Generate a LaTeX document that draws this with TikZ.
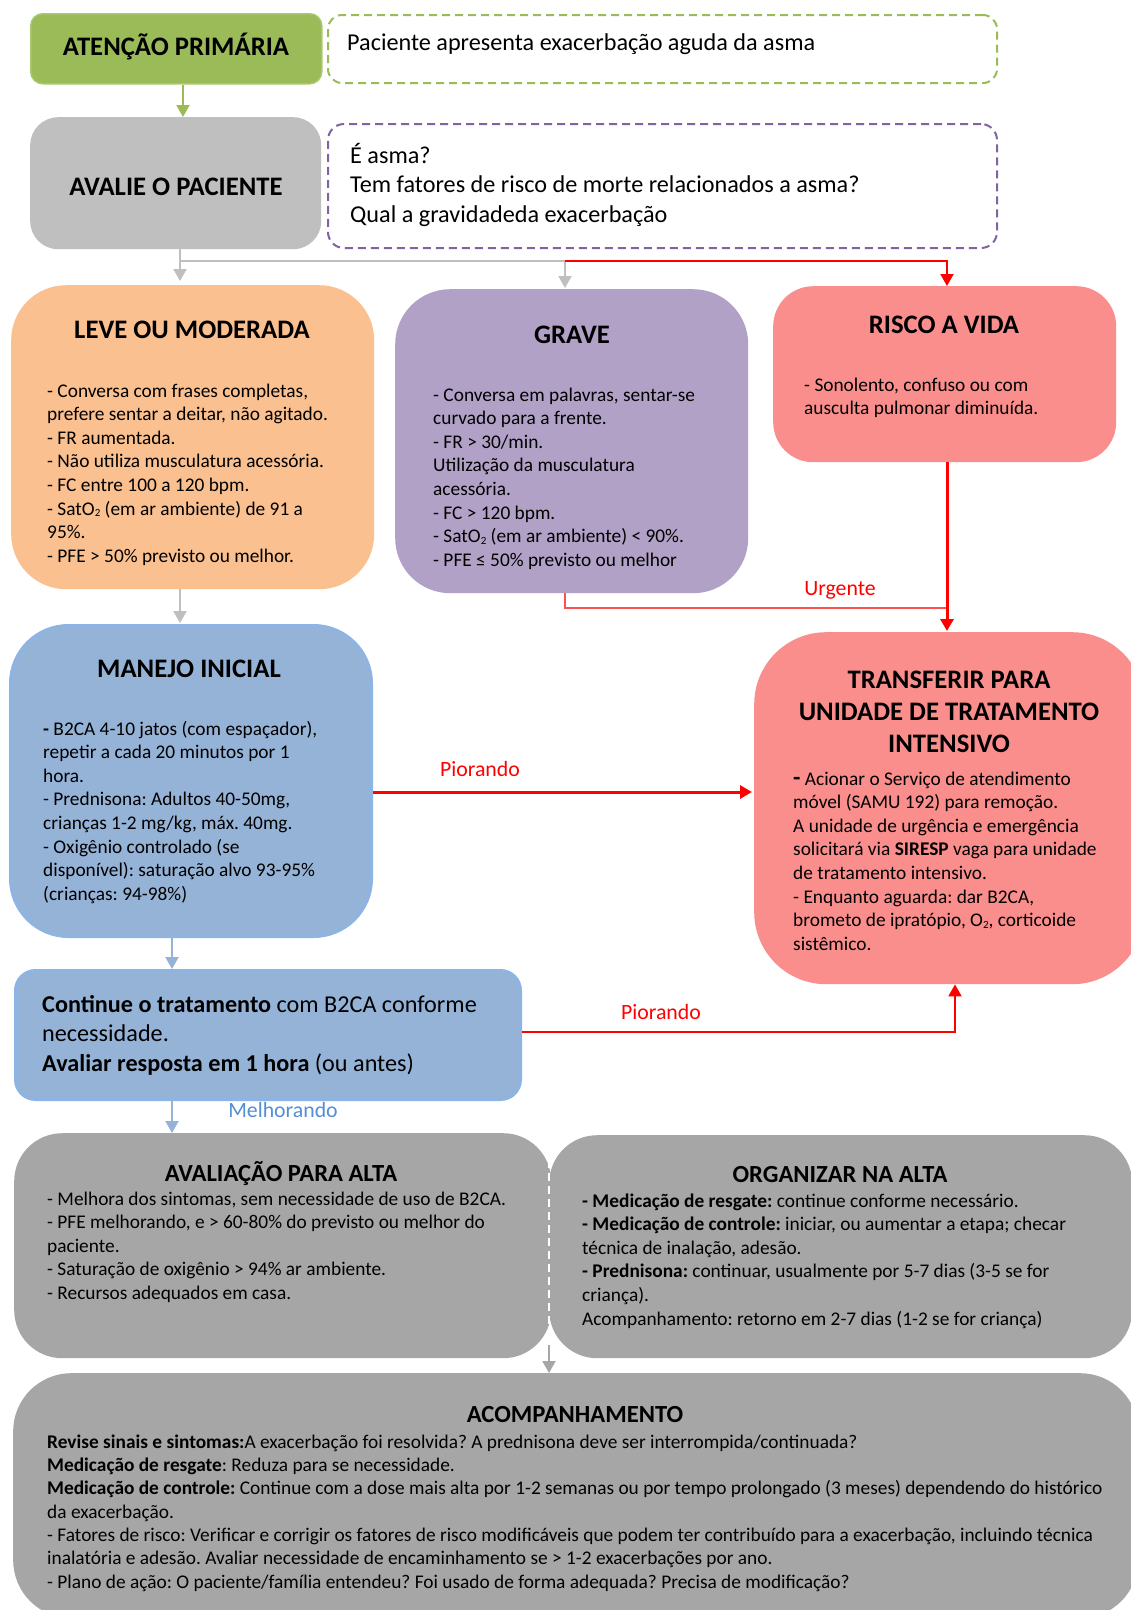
\documentclass[tikz,border=0pt]{standalone}
\usepackage{fontspec}
\setmainfont{Carlito}
\usetikzlibrary{arrows.meta}
\frenchspacing

\definecolor{prigreen}{HTML}{9BBB59}
\definecolor{prigreenline}{HTML}{A9C86E}
\definecolor{evalgray}{HTML}{BFBFBF}
\definecolor{mildorange}{HTML}{FAC090}
\definecolor{severepurple}{HTML}{B2A1C7}
\definecolor{lifered}{HTML}{FA8E8C}
\definecolor{mgmtblue}{HTML}{95B3D7}
\definecolor{mgmtline}{HTML}{8DB4E2}
\definecolor{dischgray}{HTML}{A6A6A6}
\definecolor{dashpurple}{HTML}{8064A2}
\definecolor{linkgray}{HTML}{BFBFBF}
\definecolor{urgentred}{HTML}{FF5050}
\definecolor{bettertext}{HTML}{558ED5}

\newcommand{\fBody}{\fontsize{19.35}{23.6}\selectfont}
\newcommand{\fSmall}{\fontsize{19.35}{23.3}\selectfont}
\newcommand{\fHead}{\fontsize{24.2}{29.5}\selectfont}
\newcommand{\fTitle}{\fontsize{26.7}{32}\selectfont\bfseries}
\newcommand{\fSub}{\fontsize{24.6}{29}\selectfont\bfseries}
\newcommand{\fLabel}{\fontsize{21.8}{26}\selectfont}
\newcommand{\lead}{\rule{0pt}{0.8em}}
% small chemical subscript two, as in O2
\newcommand{\subtwo}{\raisebox{-1.5pt}{\fontsize{11}{11}\selectfont 2}}

\tikzset{
  box/.style={rectangle, inner sep=0pt, anchor=north west},
  notebox/.style={box, dashed, line width=2pt, dash pattern=on 8pt off 5pt},
  txt/.style={inner sep=0pt, align=left, anchor=north west},
  bodytxt/.style={txt, font=\fBody},
  headtxt/.style={txt, font=\fHead},
  ttl/.style={inner sep=0pt, anchor=base},
  headarrow/.style={-{Triangle[length=12pt,width=13pt]}},
  graylink/.style={draw=linkgray, line width=2pt},
  greenlink/.style={draw=prigreen, line width=2pt},
  bluelink/.style={draw=mgmtblue, line width=2pt},
  redlink/.style={draw=red, line width=2pt},
  redthick/.style={draw=red, line width=3pt},
}

\begin{document}
\begin{tikzpicture}[x=1pt,y=-1pt]
\useasboundingbox (0,0) rectangle (1131,1610);
\fill[white] (0,0) rectangle (1131,1610);
\clip (0,0) rectangle (1131,1610);

% ---------- boxes ----------
\node[box, fill=prigreen, draw=prigreenline, line width=1.5pt, rounded corners=12pt,
      minimum width=291pt, minimum height=70pt] (primary) at (30,13) {};
\node[notebox, draw=prigreen, rounded corners=14pt,
      minimum width=669pt, minimum height=68pt] (primarynote) at (327,14) {};
\node[box, fill=evalgray, rounded corners=28pt,
      minimum width=291pt, minimum height=132pt] (assess) at (30,117) {};
\node[notebox, draw=dashpurple, rounded corners=16pt,
      minimum width=669pt, minimum height=124pt] (assessnote) at (327,123) {};

\node[box, fill=mildorange, rounded corners=55pt,
      minimum width=363pt, minimum height=304pt] (mild) at (11,285) {};
\node[box, fill=severepurple, rounded corners=55pt,
      minimum width=353pt, minimum height=304pt] (severe) at (395,289) {};
\node[box, fill=lifered, rounded corners=40pt,
      minimum width=343pt, minimum height=176pt] (lifethreat) at (773,286) {};

\node[box, fill=mgmtblue, draw=mgmtline, line width=3pt, rounded corners=58pt,
      minimum width=361pt, minimum height=311pt] (initial) at (9,624) {};
\node[box, fill=lifered, rounded corners=72pt,
      minimum width=390pt, minimum height=352pt] (transfer) at (754,632) {};
\node[box, fill=mgmtblue, draw=mgmtline, line width=3pt, rounded corners=20pt,
      minimum width=505pt, minimum height=129pt] (continue) at (14,969) {};

\node[box, fill=dischgray, rounded corners=48pt,
      minimum width=537pt, minimum height=225pt] (discheval) at (14,1133) {};
\node[box, fill=dischgray, rounded corners=48pt,
      minimum width=583pt, minimum height=223pt] (dischplan) at (549,1135) {};
\node[box, fill=dischgray, rounded corners=58pt,
      minimum width=1125pt, minimum height=245pt] (followup) at (13,1373) {};

% ---------- connector columns and rows ----------
\coordinate (colG) at (183,0);
\coordinate (colA) at (180,0);
\coordinate (colB) at (565,0);
\coordinate (colR) at (947,0);
\coordinate (colC) at (172,0);
\coordinate (colT) at (955,0);
\coordinate (colS) at (549,0);
\coordinate (rowJ) at (0,261);
\coordinate (rowU) at (0,608);
\coordinate (rowP) at (0,792);
\coordinate (rowQ) at (0,1032);
\coordinate (rowS1) at (0,1160);
\coordinate (rowS2) at (0,1345);

% ---------- connectors ----------
\draw[greenlink, headarrow] (primary.south -| colG) -- (assess.north -| colG);

\draw[graylink] (assess.south -| colA) -- (colA |- rowJ) -- (colB |- rowJ);
\draw[graylink, headarrow, shorten >=4pt] (colA |- rowJ) -- (mild.north -| colA);
\draw[graylink, headarrow, shorten >=1pt] (colB |- rowJ) -- (severe.north -| colB);
\draw[redlink, headarrow] (colB |- rowJ) -- (colR |- rowJ) -- (lifethreat.north -| colR);

\draw[graylink, headarrow, shorten >=1pt] (mild.south -| colA) -- (initial.north -| colA);
\draw[draw=urgentred, line width=2pt] (severe.south -| colB) -- (colB |- rowU) -- (colR |- rowU);
\draw[redthick, headarrow, shorten >=1pt] (lifethreat.south -| colR) -- (transfer.north -| colR);

\draw[redthick, headarrow, shorten >=2pt] (initial.east |- rowP) -- (transfer.west |- rowP);
\draw[bluelink, headarrow] (initial.south -| colC) -- (continue.north -| colC);
\draw[redlink, headarrow] (continue.east |- rowQ) -- (colT |- rowQ) -- (transfer.south -| colT);
\draw[bluelink, headarrow] (continue.south -| colC) -- (discheval.north -| colC);

\draw[draw=white, line width=2pt, dash pattern=on 8pt off 5pt] (colS |- rowS1) -- (colS |- rowS2);
\draw[draw=dischgray, line width=2pt, headarrow] (colS |- rowS2) -- (followup.north -| colS);

% ---------- connector labels ----------
\node[ttl, text=red, font=\fLabel] (lblurgent) at (840,595) {Urgente};
\node[ttl, text=red, font=\fLabel] (lblworse1) at (480,776) {Piorando};
\node[ttl, text=red, font=\fLabel] (lblworse2) at (661,1019) {Piorando};
\node[ttl, text=bettertext, font=\fLabel] (lblbetter) at (283,1117) {Melhorando};

% ---------- texts ----------
\node[ttl, font=\fTitle] (primarytitle) at (176,55) {ATENÇÃO PRIMÁRIA};
\node[headtxt] (primarytext) at (347,30.6) {\lead Paciente apresenta exacerbação aguda da asma};

\node[ttl, font=\fTitle] (assesstitle) at (176,195) {AVALIE O PACIENTE};
\node[headtxt] (assesstext) at (350,142.6) {\lead É asma?\\
Tem fatores de risco de morte relacionados a asma?\\
Qual a gravidadeda exacerbação};

\node[ttl, font=\fTitle] (mildtitle) at (192,338) {LEVE OU MODERADA};
\node[bodytxt] (mildtext) at (47,381.5) {\lead - Conversa com frases completas,\\
prefere sentar a deitar, não agitado.\\
- FR aumentada.\\
- Não utiliza musculatura acessória.\\
- FC entre 100 a 120 bpm.\\
- SatO\subtwo{} (em ar ambiente) de 91 a\\
95\%.\\
- PFE > 50\% previsto ou melhor.};

\node[ttl, font=\fTitle] (severetitle) at (572,343) {GRAVE};
\node[bodytxt] (severetext) at (433,385.5) {\lead - Conversa em palavras, sentar-se\\
curvado para a frente.\\
- FR > 30/min.\\
Utilização da musculatura\\
acessória.\\
- FC > 120 bpm.\\
- SatO\subtwo{} (em ar ambiente) < 90\%.\\
- PFE ≤ 50\% previsto ou melhor};

\node[ttl, font=\fTitle] (lifetitle) at (944,333) {RISCO A VIDA};
\node[bodytxt] (lifetext) at (804,375.5) {\lead - Sonolento, confuso ou com\\
ausculta pulmonar diminuída.};

\node[ttl, font=\fTitle] (initialtitle) at (189,677) {MANEJO INICIAL};
\node[bodytxt] (initialtext) at (43,719.5) {\lead \textbf{-} B2CA 4-10 jatos (com espaçador),\\
repetir a cada 20 minutos por 1\\
hora.\\
- Prednisona: Adultos 40-50mg,\\
crianças 1-2 mg/kg, máx. 40mg.\\
- Oxigênio controlado (se\\
disponível): saturação alvo 93-95\%\\
(crianças: 94-98\%)};

\node[inner sep=0pt, align=center, anchor=north, font=\fTitle] (transfertitle) at (949,666.6)
  {\lead TRANSFERIR PARA\\ UNIDADE DE TRATAMENTO\\ INTENSIVO};
\node[bodytxt] (transfertext) at (793,769.5) {\lead {\fontsize{24}{23.6}\selectfont\textbf{-}} Acionar o Serviço de atendimento\\
móvel (SAMU 192) para remoção.\\
A unidade de urgência e emergência\\
solicitará via \textbf{SIRESP} vaga para unidade\\
de tratamento intensivo.\\
- Enquanto aguarda: dar B2CA,\\
brometo de ipratópio, O\subtwo, corticoide\\
sistêmico.};

\node[headtxt] (continuetext) at (42,992.6) {\lead \textbf{Continue o tratamento} com B2CA conforme\\
necessidade.\\
\textbf{Avaliar resposta em 1 hora} (ou antes)};

\node[ttl, font=\fSub] (dischevaltitle) at (281,1181) {AVALIAÇÃO PARA ALTA};
\node[bodytxt] (dischevaltext) at (47,1189.5) {\lead - Melhora dos sintomas, sem necessidade de uso de B2CA.\\
- PFE melhorando, e > 60-80\% do previsto ou melhor do\\
paciente.\\
- Saturação de oxigênio > 94\% ar ambiente.\\
- Recursos adequados em casa.};

\node[ttl, font=\fSub] (dischplantitle) at (840,1182) {ORGANIZAR NA ALTA};
\node[bodytxt] (dischplantext) at (582,1191.5) {\lead \textbf{- Medicação de resgate:} continue conforme necessário.\\
\textbf{- Medicação de controle:} iniciar, ou aumentar a etapa; checar\\
técnica de inalação, adesão.\\
\textbf{- Prednisona:} continuar, usualmente por 5-7 dias (3-5 se for\\
criança).\\
Acompanhamento: retorno em 2-7 dias (1-2 se for criança)};

\node[ttl, font=\fSub] (followuptitle) at (575,1422) {ACOMPANHAMENTO};
\node[txt, font=\fSmall] (followuptext) at (47,1432.5) {\lead \textbf{Revise sinais e sintomas:}A exacerbação foi resolvida? A prednisona deve ser interrompida/continuada?\\
\textbf{Medicação de resgate}: Reduza para se necessidade.\\
\textbf{Medicação de controle:} Continue com a dose mais alta por 1-2 semanas ou por tempo prolongado (3 meses) dependendo do histórico\\
da exacerbação.\\
- Fatores de risco: Verificar e corrigir os fatores de risco modificáveis que podem ter contribuído para a exacerbação, incluindo técnica\\
inalatória e adesão. Avaliar necessidade de encaminhamento se > 1-2 exacerbações por ano.\\
- Plano de ação: O paciente/família entendeu? Foi usado de forma adequada? Precisa de modificação?};

\end{tikzpicture}
\end{document}
